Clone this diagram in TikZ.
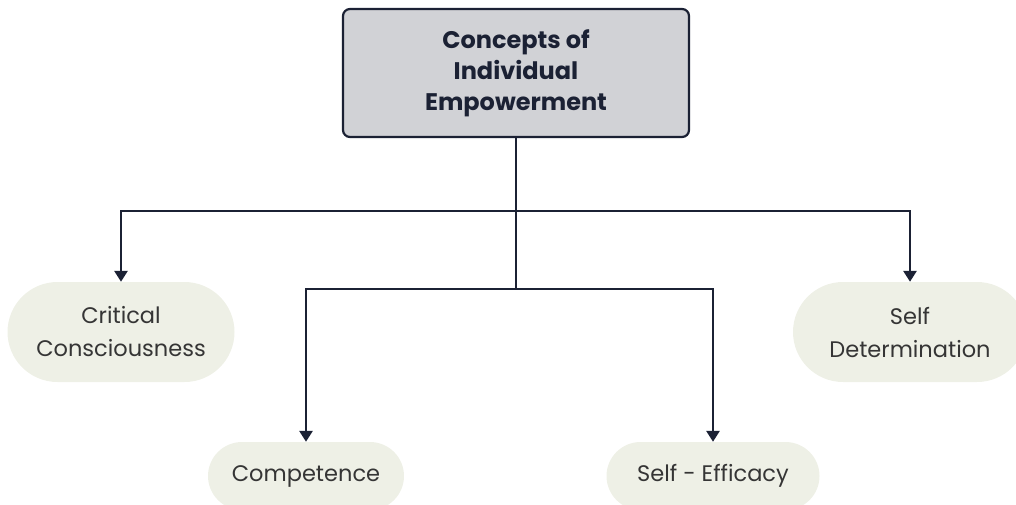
\documentclass[tikz,border=0pt]{standalone}
\usepackage{fontspec}
\setmainfont{Poppins}
\usetikzlibrary{arrows.meta}

\definecolor{ink}{HTML}{1B2134}
\definecolor{boxgray}{HTML}{D1D2D6}
\definecolor{leaffill}{HTML}{EEF0E6}
\definecolor{leaftext}{HTML}{353535}

\tikzset{
	root/.style={draw=ink, line width=2.2pt, fill=boxgray, rounded corners=7pt,
		minimum width=346pt, minimum height=128pt, align=center, text=ink,
		font=\bfseries\fontsize{24}{31}\selectfont},
	leaf/.style={fill=leaffill, align=center, text=leaftext,
		font=\fontsize{22.5}{33}\selectfont},
	link/.style={draw=ink, line width=2.8pt},
	arr/.style={link, -{Triangle[width=13pt, length=11pt]}}
}

\begin{document}
\begin{tikzpicture}[x=1pt, y=-1pt]
			%%%%% START %%%%%
			
			\useasboundingbox (0, 0) rectangle (1016, 504);
			
			\node[root] (top) at (516, 73) {Concepts of\\Individual\\Empowerment};
			
			\node[leaf, rounded corners=50pt, minimum width=227pt, minimum height=100pt] (crit) at (121, 332) {Critical\\Consciousness};
			\node[leaf, rounded corners=50pt, minimum width=234pt, minimum height=100pt] (selfdet) at (910, 332) {Self\\Determination};
			\node[leaf, rounded corners=34pt, minimum width=196pt, minimum height=68pt] (comp) at (306, 476) {Competence};
			\node[leaf, rounded corners=34pt, minimum width=213pt, minimum height=68pt] (eff) at (713, 476) {Self - Efficacy};
			
			\coordinate (bus1) at (516, 211);
			\coordinate (bus2) at (516, 289);
			
			\draw[link] (top.south) -- (bus2);
			\draw[arr] (bus1) -| (crit.north);
			\draw[arr] (bus1) -| (selfdet.north);
			\draw[arr] (bus2) -| (comp.north);
			\draw[arr] (bus2) -| (eff.north);
			
			%%%%% END %%%%%
\end{tikzpicture}
\end{document}
